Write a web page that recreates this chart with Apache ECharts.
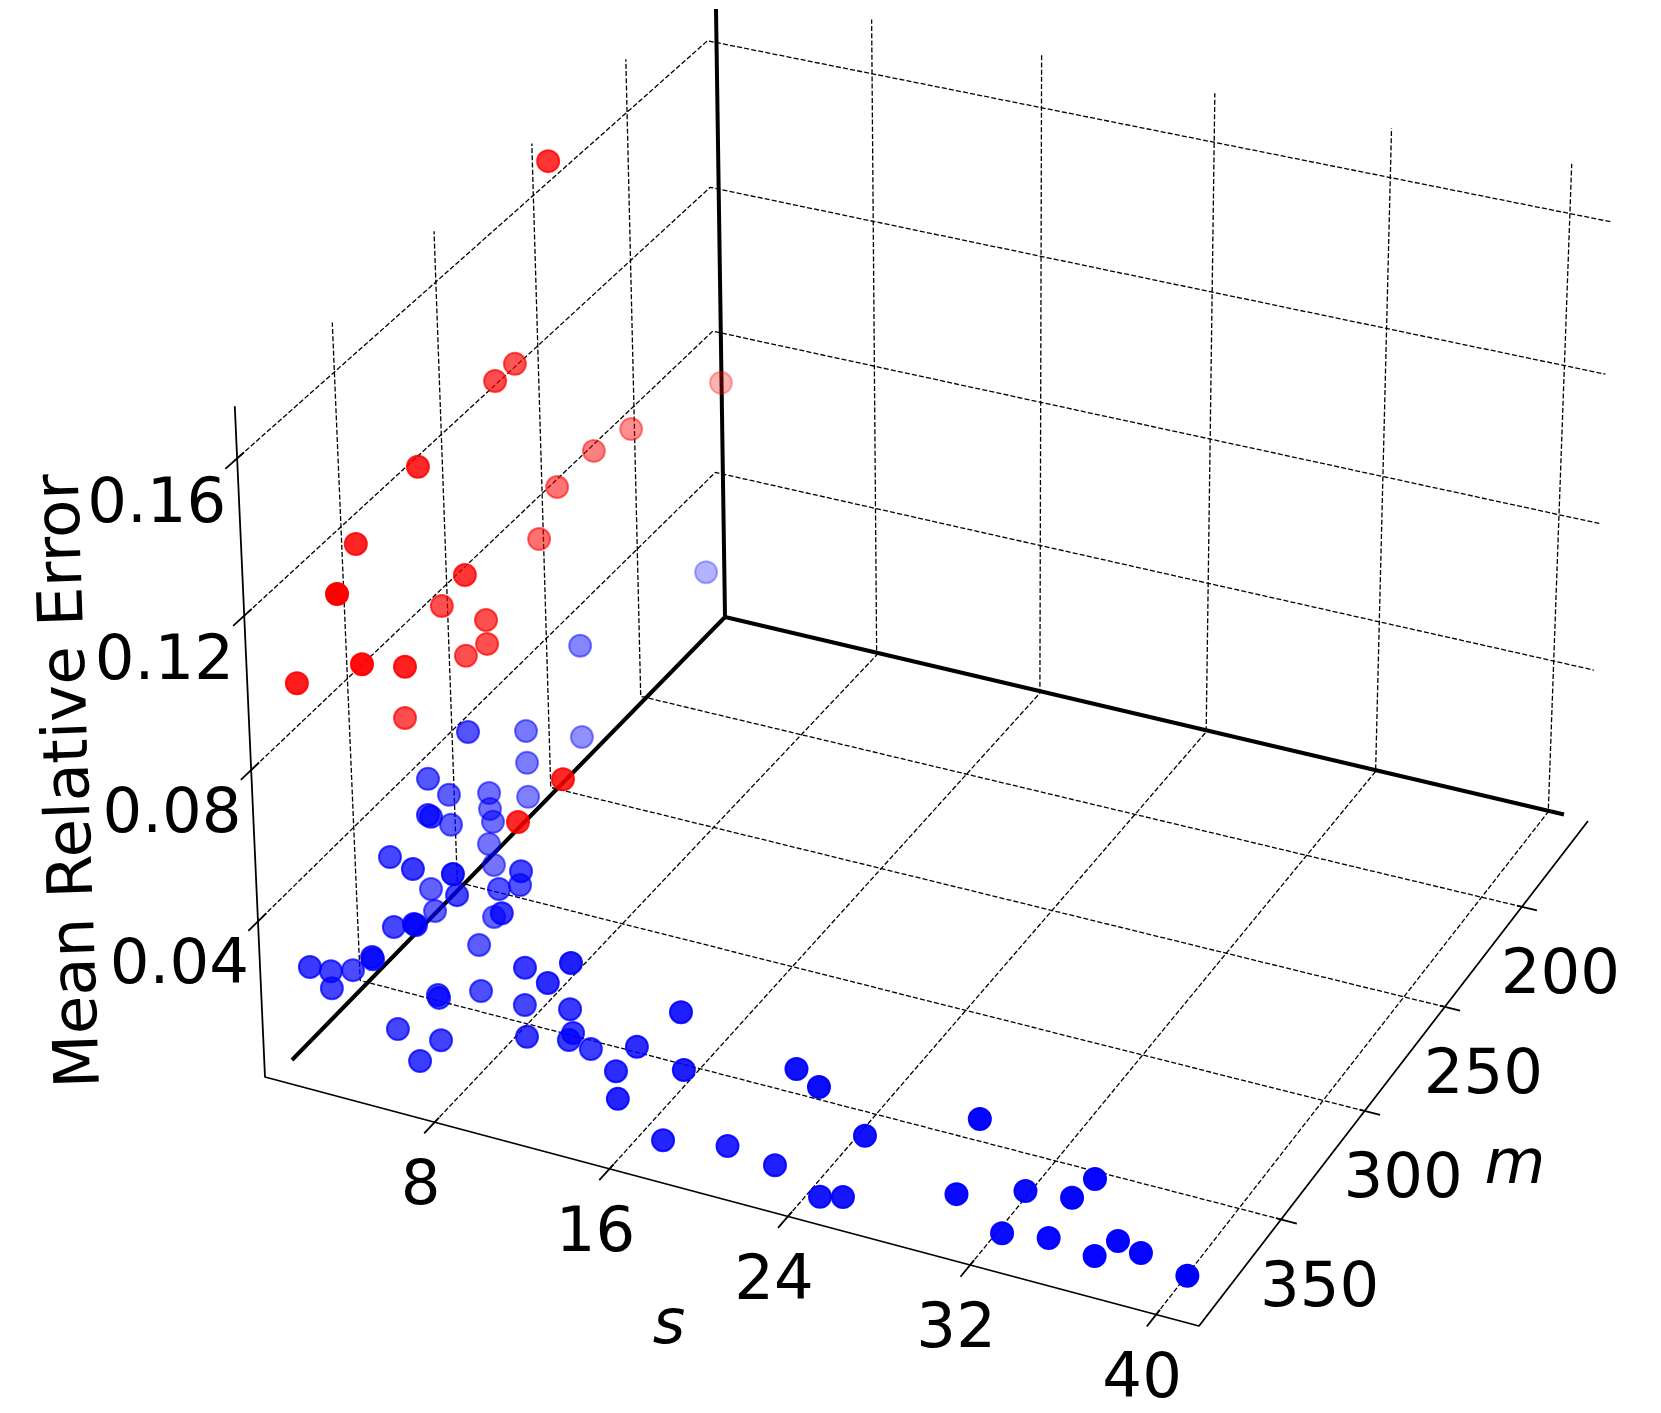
<!DOCTYPE html>
<html><head><meta charset="utf-8">
<style>html,body{margin:0;padding:0;background:#fff}#c{width:1661px;height:1413px}</style>
<script src="https://cdn.jsdelivr.net/npm/echarts@6/dist/echarts.min.js"></script></head>
<body><div id="c"></div>
<script>
const sTicks=[8,16,24,32,40];
const mTicks=[200,250,300,350];
const errTicks=[0.04,0.08,0.12,0.16];
const sAxisLabel='s', mAxisLabel='m', errAxisLabel='Mean Relative Error';
const sRed=[1.08,1.16,2.44,1.19,4.34,3.95,1.01,2.78,3.05,2.37,4.64,4.52,1.25,1.04,1.16,1.03,1.03,1.03,1.03,3.18,10.56,9.32];
const mRed=[272.6,283.7,336.3,354.5,395.8,331.1,312.4,309.2,311.9,315.5,388.7,367.4,385.3,332.8,263.8,252.3,232.5,212.3,162.2,275.3,356.1,365.6];
const errRed=[.1270,.1278,.1320,.1192,.1310,.1031,.0816,.0786,.0739,.0716,.1098,.0981,.0985,.0619,.0757,.0841,.0844,.0807,.0698,.1838,.0711,.0630];
const sBlue=[1.12,1.05,2.41,1.02,1.04,1.08,1.10,1.13,1.03,1.01,3.00,3.13,1.35,1.62,1.07,1.16,1.98,4.25,1.55,8.35,6.97,5.79,5.04,1.24,4.82,1.56,7.92,3.51,2.78,6.10,6.18,3.98,1.29,1.34,1.23,3.56,3.62,1.31,5.04,5.11,5.74,9.27,11.50,13.40,8.35,11.30,4.01,6.01,6.01,9.98,11.63,11.54,11.92,15.31,14.77,15.82,18.42,17.80,17.65,20.20,22.53,23.61,25.03,26.63,25.17,26.00,31.66,31.05,33.24,35.58,36.22,32.78,34.68,36.87,37.56,38.47,40.57];
const mBlue=[243.5,172.8,316.2,272.1,243.0,272.7,323.3,313.5,292.2,291.8,343.5,343.4,315.3,296.9,272.6,294.5,352.3,364.6,296.4,387.7,340.0,328.2,330.9,325.3,349.5,327.0,360.2,317.8,359.9,384.0,383.9,330.7,385.7,376.4,364.8,378.8,379.0,376.0,362.9,363.1,348.9,363.9,376.6,385.3,354.8,363.8,372.4,372.2,382.7,371.5,366.2,367.4,360.6,374.4,379.3,390.2,385.5,379.4,388.2,384.1,386.5,387.2,392.3,387.5,394.1,391.9,387.6,392.7,382.6,386.8,382.4,389.6,388.1,390.8,386.8,385.8,387.3];
const errBlue=[.0360,.0212,.0514,.0268,.0100,.0183,.0405,.0310,.0201,.0154,.0441,.0437,.0240,.0154,.0087,.0073,.0359,.0426,.0030,.0597,.0327,.0208,.0201,.0115,.0282,.0068,.0337,.0030,.0222,.0411,.0409,.0030,.0233,.0171,.0108,.0256,.0252,.0122,.0087,.0081,.0030,.0230,.0293,.0423,.0064,.0148,.0031,.0030,.0033,.0096,.0102,.0088,.0031,.0167,.0121,.0125,.0216,.0326,.0031,.0032,.0031,.0308,.0312,.0180,.0033,.0033,.0304,.0126,.0110,.0154,.0188,.0032,.0041,.0045,.0072,.0049,.0032];

// axis limits of the 3D box
const sR=[0.08,41.82], mR=[155.5,397.2], eR=[-0.002,0.1745];
// perspective camera: screen images of the box corners
const A=[718,618,1],C=[1588,821,1],B=[265,1077,1],F=[1199,1326,1],T=[706.5,-13,1],E=[236,410,1];
function solve3(M,r){const d=a=>a[0][0]*(a[1][1]*a[2][2]-a[1][2]*a[2][1])-a[0][1]*(a[1][0]*a[2][2]-a[1][2]*a[2][0])+a[0][2]*(a[1][0]*a[2][1]-a[1][1]*a[2][0]);
 const D0=d(M);return [0,1,2].map(i=>d(M.map((row,k)=>row.map((v,j)=>j===i?r[k]:v)))/D0);}
const cam=(()=>{const [al,be]=solve3([0,1,2].map(i=>[C[i],B[i],-F[i]]),A);
 const cross=(a,b)=>[a[1]*b[2]-a[2]*b[1],a[2]*b[0]-a[0]*b[2],a[0]*b[1]-a[1]*b[0]];
 const p=[0,1,2].map(i=>be*B[i]-A[i]);const pe=cross(p,E),te=cross(T,E);
 const ga=-(pe[0]*te[0]+pe[1]*te[1]+pe[2]*te[2])/(te[0]*te[0]+te[1]*te[1]+te[2]*te[2]);
 return {cu:[0,1,2].map(i=>al*C[i]-A[i]),cv:[0,1,2].map(i=>be*B[i]-A[i]),cw:[0,1,2].map(i=>ga*T[i]-A[i])};})();
function proj(u,v,w){const h=[0,1,2].map(i=>A[i]+u*cam.cu[i]+v*cam.cv[i]+w*cam.cw[i]);return [h[0]/h[2],h[1]/h[2]];}
const U=s=>(s-sR[0])/(sR[1]-sR[0]),V=m=>(m-mR[0])/(mR[1]-mR[0]),W=e=>(e-eR[0])/(eR[1]-eR[0]);
const dep=(u,v,w)=>.385*u+.756*v+.397*w;

const series=[];
function ln(pts,style,z){series.push({type:'line',data:pts,showSymbol:false,silent:true,animation:false,clip:false,lineStyle:style,z:z||1});}
const solid={color:'#000',width:1.8};
const dash={color:'#000',width:1.3,type:[5,2.2]};
const tk=0.018;
for(const e of errTicks){const w=W(e);ln([proj(0,1,w),proj(0,0,w),proj(1,0,w)],dash);ln([proj(0,1+tk,w),proj(0,1-tk,w)],solid);}
for(const s of sTicks){const u=U(s);ln([proj(u,1,0),proj(u,0,0),proj(u,0,u<.4?1:.991)],dash);ln([proj(u,1+tk*1.2,0),proj(u,1-tk*.5,0)],solid);}
for(const m of mTicks){const v=V(m);ln([proj(1,v,0),proj(0,v,0),proj(0,v,1-.013*v)],dash);ln([proj(1+tk*.9,v,0),proj(1-tk*.3,v,0)],solid);}
ln([proj(.003,1,.996),proj(0,1,0),proj(1,1,0),proj(1,0,0)],solid,2);
const thick={color:'#000',width:4};
ln([[292,1060],[725,617],[1564,814.5]],thick,3);
ln([[725,617],[716,9]],thick,3);

function points(ss,ms,es,col){
 const rows=ss.map((s,i)=>{const u=U(s),v=V(ms[i]),w=W(es[i]);return {u,v,w,d:dep(u,v,w)};});
 const ds=rows.map(r=>r.d),lo=Math.min(...ds),hi=Math.max(...ds);
 rows.sort((a,b)=>a.d-b.d);
 series.push({type:'scatter',animation:false,silent:true,z:5,symbol:'circle',symbolSize:22,clip:false,
  data:rows.map(r=>{const c=`rgba(${col},${(.3+.7*(r.d-lo)/(hi-lo)).toFixed(3)})`;
   return {value:proj(r.u,r.v,r.w),itemStyle:{color:c,borderColor:c,borderWidth:2,opacity:1}};})});
}
points(sBlue,mBlue,errBlue,'0,0,255');
points(sRed,mRed,errRed,'255,0,0');

function labels(items,style){series.push({type:'scatter',animation:false,silent:true,z:6,symbolSize:0,clip:false,itemStyle:{opacity:1},
 data:items.map(i=>({value:[i[0],i[1]],label:{show:true,position:'inside',formatter:i[2],fontSize:62.5,color:'#000',opacity:1,fontFamily:'DejaVu Sans',fontStyle:style||'normal',rotate:i[3]||0,align:'center',verticalAlign:'middle'}}))});}
const L=[];
for(const s of sTicks){const p=proj(U(s),1,0);L.push([p[0]-14,p[1]+66,String(s)]);}
for(const m of mTicks){const p=proj(1,V(m),0);L.push([p[0]+38.5,p[1]+70,String(m)]);}
for(const e of errTicks){const p=proj(0,1,W(e));L.push([p[0]-78,p[1]+45,e.toFixed(2)]);}
L.push([72,781,errAxisLabel,92]);
labels(L);
labels([[669,1327,sAxisLabel],[1515,1167,mAxisLabel]],'italic');

const chart=echarts.init(document.getElementById('c'),null,{renderer:'canvas'});
chart.setOption({animation:false,backgroundColor:'#fff',grid:{left:0,right:0,top:0,bottom:0},
 xAxis:{type:'value',min:0,max:1661,show:false},yAxis:{type:'value',min:0,max:1413,inverse:true,show:false},series});
</script></body></html>
